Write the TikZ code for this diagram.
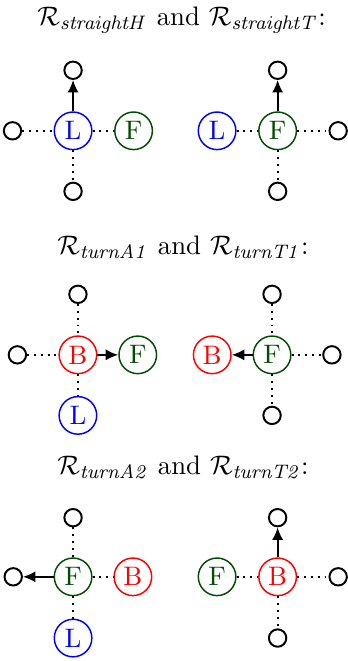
\documentclass[tikz,border=0pt,11pt]{standalone}
\usetikzlibrary{arrows.meta}
\colorlet{fgreen}{green!30!black}
\tikzset{
  agent/.style={circle, draw, semithick, minimum size=0.54cm, inner sep=0pt},
  cell/.style={circle, draw, thick, minimum size=0.25cm, inner sep=0pt},
  link/.style={thick, dotted},
  move/.style={thick, -{Latex[length=1.8mm,width=1.6mm]}}
}
\begin{document}
\begin{tikzpicture}
\useasboundingbox (0,0) rectangle (5,-9.5);
% straight
\node (t1) at (2.61,-0.29) {$\mathcal{R}_{\mathit{straightH}}$ and $\mathcal{R}_{\mathit{straightT}}$:};
\node[agent, blue] (a1) at (1.05,-1.88) {L};
\node[agent, fgreen] (b1) at (1.92,-1.88) {F};
\node[cell] (a1n) at (1.05,-1.01) {};
\node[cell] (a1w) at (0.18,-1.88) {};
\node[cell] (a1s) at (1.05,-2.75) {};
\draw[move] (a1) -- (a1n);
\draw[link] (a1w) -- (a1);
\draw[link] (a1) -- (b1);
\draw[link] (a1) -- (a1s);
\node[agent, blue] (c1) at (3.12,-1.88) {L};
\node[agent, fgreen] (d1) at (3.99,-1.88) {F};
\node[cell] (d1n) at (3.99,-1.01) {};
\node[cell] (d1e) at (4.86,-1.88) {};
\node[cell] (d1s) at (3.99,-2.75) {};
\draw[move] (d1) -- (d1n);
\draw[link] (c1) -- (d1);
\draw[link] (d1) -- (d1e);
\draw[link] (d1) -- (d1s);
% turn 1
\node (t2) at (2.63,-3.55) {$\mathcal{R}_{\mathit{turnA1}}$ and $\mathcal{R}_{\mathit{turnT1}}$:};
\node[agent, red] (a2) at (1.12,-5.10) {B};
\node[agent, fgreen] (b2) at (1.98,-5.10) {F};
\node[agent, blue] (l2) at (1.12,-5.97) {L};
\node[cell] (a2n) at (1.12,-4.23) {};
\node[cell] (a2w) at (0.25,-5.10) {};
\draw[move] (a2) -- (b2);
\draw[link] (a2n) -- (a2);
\draw[link] (a2w) -- (a2);
\draw[link] (a2) -- (l2);
\node[agent, red] (c2) at (3.05,-5.10) {B};
\node[agent, fgreen] (d2) at (3.91,-5.10) {F};
\node[cell] (d2n) at (3.91,-4.23) {};
\node[cell] (d2e) at (4.77,-5.10) {};
\node[cell] (d2s) at (3.91,-5.97) {};
\draw[move] (d2) -- (c2);
\draw[link] (d2n) -- (d2);
\draw[link] (d2) -- (d2e);
\draw[link] (d2) -- (d2s);
% turn 2
\node (t3) at (2.63,-6.72) {$\mathcal{R}_{\mathit{turnA2}}$ and $\mathcal{R}_{\mathit{turnT2}}$:};
\node[agent, fgreen] (a3) at (1.05,-8.29) {F};
\node[agent, red] (b3) at (1.91,-8.29) {B};
\node[agent, blue] (l3) at (1.05,-9.17) {L};
\node[cell] (a3n) at (1.05,-7.44) {};
\node[cell] (a3w) at (0.19,-8.29) {};
\draw[move] (a3) -- (a3w);
\draw[link] (a3n) -- (a3);
\draw[link] (a3) -- (b3);
\draw[link] (a3) -- (l3);
\node[agent, fgreen] (c3) at (3.12,-8.29) {F};
\node[agent, red] (d3) at (3.99,-8.29) {B};
\node[cell] (d3n) at (3.99,-7.44) {};
\node[cell] (d3e) at (4.86,-8.29) {};
\node[cell] (d3s) at (3.99,-9.17) {};
\draw[move] (d3) -- (d3n);
\draw[link] (c3) -- (d3);
\draw[link] (d3) -- (d3e);
\draw[link] (d3) -- (d3s);
\end{tikzpicture}
\end{document}
